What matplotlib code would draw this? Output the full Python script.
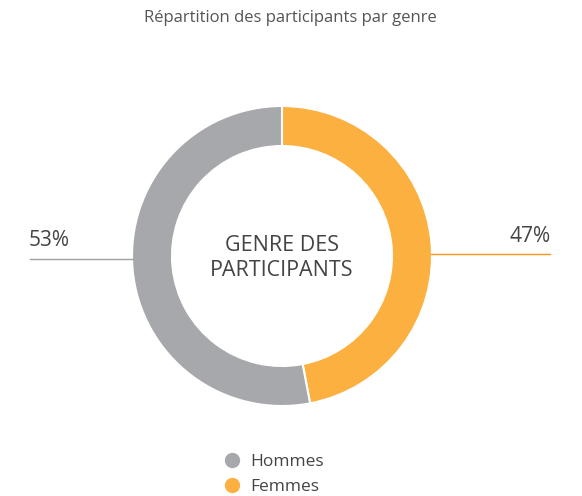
import matplotlib.pyplot as plt
from matplotlib.lines import Line2D

plt.rcParams['font.family'] = ['Open Sans', 'DejaVu Sans']

genres = ['Femmes', 'Hommes']
parts = [47, 53]
couleurs = ['#FBB040', '#A7A8AC']
title = 'Répartition des participants par genre'

H = 496
fig = plt.figure(figsize=(5.82, 4.96), dpi=100)
ax = fig.add_axes([0, 0, 1, 1])

cx, cy = 282, H - 256
ax.pie(parts, colors=couleurs, startangle=90, counterclock=False,
       center=(cx, cy), radius=150, frame=True,
       wedgeprops=dict(width=40, edgecolor='white', linewidth=1.5))
ax.set_xlim(0, 582)
ax.set_ylim(0, H)
ax.set_aspect('equal')
ax.axis('off')

ax.text(290, H - 18, title, ha='center', va='center', fontsize=12, color='#555555')
ax.text(cx, cy - 2, 'GENRE DES\nPARTICIPANTS', ha='center', va='center',
        fontsize=15.5, color='#444444', linespacing=1.25)

# étiquettes de pourcentage
ax.plot([30, 133], [H - 259, H - 259], color='#A0A0A0', lw=1)
ax.text(29, H - 241, f'{parts[1]}%', ha='left', va='center', fontsize=15, color='#444444')
ax.plot([431, 550], [H - 254, H - 254], color='#F7941D', lw=1)
ax.text(551, H - 236, f'{parts[0]}%', ha='right', va='center', fontsize=15, color='#444444')

handles = [Line2D([], [], marker='o', ls='', color=couleurs[1], markersize=10),
           Line2D([], [], marker='o', ls='', color=couleurs[0], markersize=10)]
ax.legend(handles, [genres[1], genres[0]], loc='center', bbox_to_anchor=(0.47, 0.044),
          frameon=False, fontsize=12.5, handletextpad=0.6, labelspacing=0.5,
          labelcolor='#444444', handlelength=1)

fig.savefig('out.png', dpi=100)
